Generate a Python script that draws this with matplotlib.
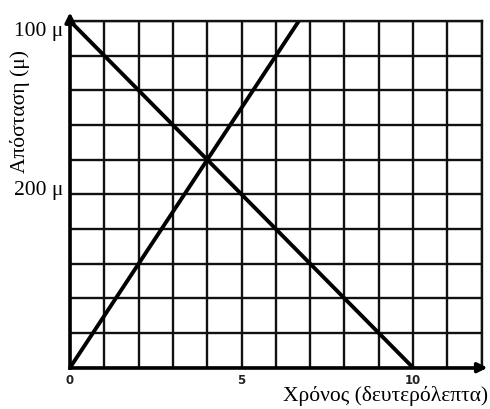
import matplotlib.pyplot as plt
import numpy as np

# data (time in s, distance in grid units)
t_up = [0, 6.67]
d_up = [0, 10]
t_down = [0, 10]
d_down = [10, 0]

x_ticklabels = {0: '0', 5: '5', 10: '10'}
y_labels = {9.7: '100 μ', 5.1: '200 μ'}

plt.rcParams['font.family'] = ['Liberation Serif', 'DejaVu Serif']

fig = plt.figure(figsize=(4.9, 4.09), dpi=100)
ax = fig.add_axes([70/490, 41.3/409, 411.7/490, 346.7/409])

ax.set_xlim(0, 12)
ax.set_ylim(0, 10)
ax.set_xticks(np.arange(0, 13))
ax.set_yticks(np.arange(0, 11))
ax.grid(True, color='#111111', lw=1.7)
ax.set_axisbelow(True)
ax.tick_params(length=0, labelleft=False, labelbottom=False)

for s in ['top', 'right']:
    ax.spines[s].set_linewidth(1.7)
    ax.spines[s].set_color('#111111')
for s in ['left', 'bottom']:
    ax.spines[s].set_linewidth(2.6)

ax.plot(t_up, d_up, color='black', lw=2.8, solid_capstyle='butt')
ax.plot(t_down, d_down, color='black', lw=2.8, solid_capstyle='butt')

# axis arrows
ax.annotate('', xy=(0, 10.33), xytext=(0, 9.9), annotation_clip=False,
            arrowprops=dict(arrowstyle='-|>', color='black', lw=2.6, mutation_scale=14))
ax.annotate('', xy=(12.25, 0), xytext=(11.8, 0), annotation_clip=False,
            arrowprops=dict(arrowstyle='-|>', color='black', lw=2.6, mutation_scale=14))

for x, lab in x_ticklabels.items():
    ax.text(x, -0.18, lab, ha='center', va='top', fontsize=8.5, fontweight='bold',
            family='DejaVu Sans', color='#222222')
for y, lab in y_labels.items():
    ax.text(-0.2, y, lab, ha='right', va='center', fontsize=15.5)

fig.text(20/490, 1 - 112/409, 'Απόσταση (μ)', rotation=90, ha='center', va='center', fontsize=15.5)
fig.text(488/490, 1 - 396/409, 'Χρόνος (δευτερόλεπτα)', ha='right', va='center', fontsize=15.5)

plt.savefig('out.png', dpi=100)
